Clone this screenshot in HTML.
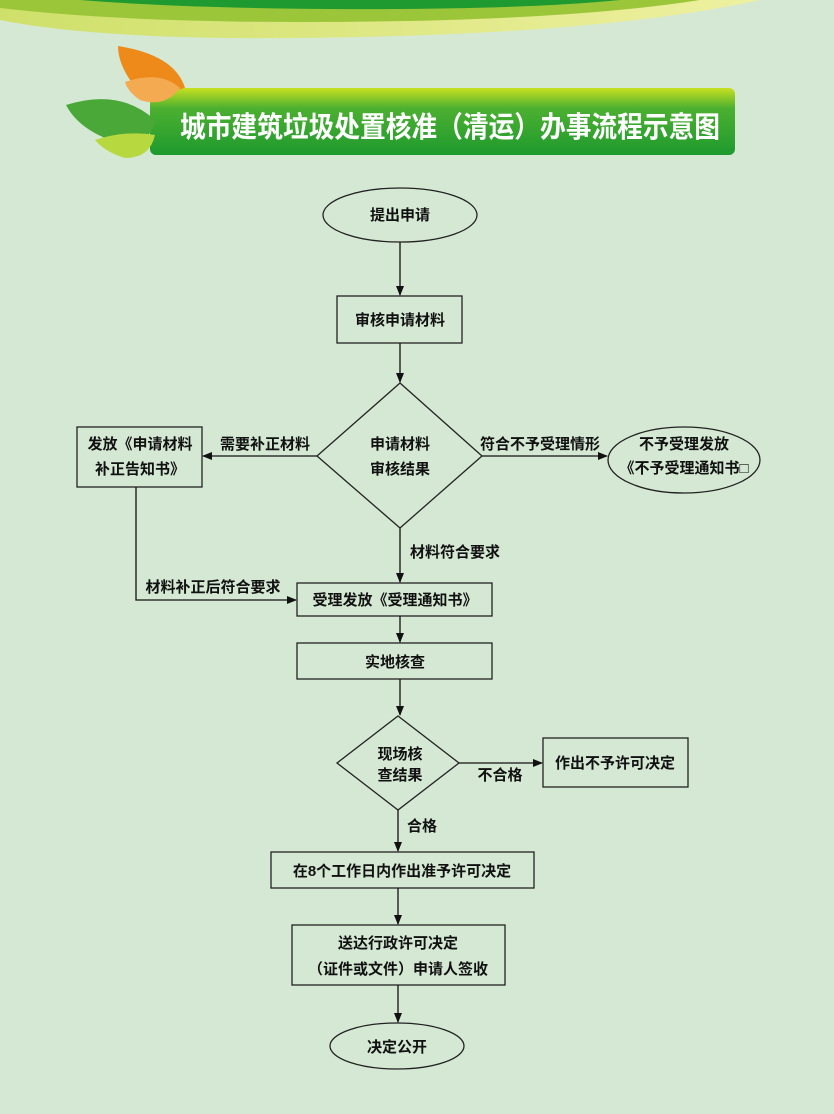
<!DOCTYPE html>
<html><head><meta charset="utf-8"><style>
html,body{margin:0;padding:0;background:#d4e8d3;}
svg{display:block}
text{font-family:"Liberation Sans","Noto Sans CJK SC",sans-serif;fill:#111;}
</style></head><body>
<svg width="834" height="1114" viewBox="0 0 834 1114" xmlns="http://www.w3.org/2000/svg">
<defs>
<linearGradient id="ban" x1="0" y1="0" x2="0" y2="1">
<stop offset="0" stop-color="#c8e020"/><stop offset="0.3" stop-color="#4cb030"/><stop offset="1" stop-color="#1e9a2e"/></linearGradient>
<linearGradient id="sw" x1="0" y1="0" x2="1" y2="0">
<stop offset="0" stop-color="#cfe06a"/><stop offset="1" stop-color="#eef0a0"/></linearGradient>
<marker id="ar" markerWidth="10" markerHeight="10" refX="9" refY="5" orient="auto" markerUnits="userSpaceOnUse">
<path d="M0,1 L10,5 L0,9 z" fill="#111"/></marker>
</defs>
<rect width="834" height="1114" fill="#d4e8d3"/>
<path d="M0,0 L760,0 Q600,35 300,38 Q100,40 0,20 z" fill="url(#sw)"/>
<path d="M0,0 L700,0 Q560,22 300,22 Q120,22 0,8 z" fill="#9cc63a"/>
<path d="M80,0 L620,0 Q520,10 330,9 Q180,8 80,0 z" fill="#1f9a30"/>
<rect x="150" y="88" width="585" height="67" rx="6" fill="url(#ban)"/>
<path d="M118,46 Q175,55 185,88 Q150,98 130,80 Q118,62 118,46z" fill="#ee8a1a"/>
<path d="M125,82 Q160,70 180,88 Q165,108 140,100 Q128,92 125,82z" fill="#f4aa50"/>
<path d="M66,105 Q120,88 155,120 Q150,150 110,140 Q78,128 66,105z" fill="#4aa838"/>
<path d="M95,140 Q125,130 155,135 Q150,158 125,158 Q105,152 95,140z" fill="#b8d840"/>
<text x="180" y="137" font-size="29" font-weight="bold" style="fill:#fff" textLength="540" lengthAdjust="spacingAndGlyphs">城市建筑垃圾处置核准（清运）办事流程示意图</text>
<g stroke="#222" stroke-width="1.3" fill="none">
<ellipse cx="400" cy="215" rx="77" ry="27"/>
<rect x="337" y="296" width="125" height="47"/>
<path d="M400,383 L482,456 L400,528 L317,456 z"/>
<rect x="77" y="427" width="125" height="60"/>
<ellipse cx="684" cy="460" rx="76" ry="33"/>
<rect x="297" y="583" width="195" height="33"/>
<rect x="297" y="643" width="195" height="36"/>
<path d="M398,716 L459,763 L398,810 L337,763 z"/>
<rect x="543" y="738" width="145" height="49"/>
<rect x="271" y="852" width="263" height="36"/>
<rect x="292" y="925" width="213" height="60"/>
<ellipse cx="397" cy="1046" rx="67" ry="23"/>
</g>
<g stroke="#111" stroke-width="1.3" fill="none" marker-end="url(#ar)">
<line x1="400" y1="242" x2="400" y2="295"/>
<line x1="400" y1="343" x2="400" y2="382"/>
<line x1="317" y1="456" x2="203" y2="456"/>
<line x1="482" y1="456" x2="607" y2="456"/>
<line x1="400" y1="528" x2="400" y2="582"/>
<polyline points="136,487 136,600 296,600"/>
<line x1="400" y1="616" x2="400" y2="642"/>
<line x1="400" y1="679" x2="400" y2="715"/>
<line x1="459" y1="763" x2="542" y2="763"/>
<line x1="398" y1="810" x2="398" y2="851"/>
<line x1="398" y1="888" x2="398" y2="924"/>
<line x1="398" y1="985" x2="398" y2="1022"/>
</g>
<g font-size="15" font-weight="bold" text-anchor="middle">
<text x="400" y="220">提出申请</text>
<text x="400" y="325">审核申请材料</text>
<text x="400" y="449">申请材料</text>
<text x="400" y="474">审核结果</text>
<text x="140" y="449">发放《申请材料</text>
<text x="140" y="474">补正告知书》</text>
<text x="265" y="449">需要补正材料</text>
<text x="540" y="449">符合不予受理情形</text>
<text x="684" y="449">不予受理发放</text>
<text x="684" y="473">《不予受理通知书□</text>
<text x="455" y="557">材料符合要求</text>
<text x="213" y="592">材料补正后符合要求</text>
<text x="395" y="605">受理发放《受理通知书》</text>
<text x="395" y="667">实地核查</text>
<text x="400" y="759">现场核</text>
<text x="400" y="780">查结果</text>
<text x="500" y="780">不合格</text>
<text x="615" y="768">作出不予许可决定</text>
<text x="422" y="831">合格</text>
<text x="402" y="876">在8个工作日内作出准予许可决定</text>
<text x="398" y="948">送达行政许可决定</text>
<text x="398" y="974">（证件或文件）申请人签收</text>
<text x="397" y="1052">决定公开</text>
</g>
</svg>
</body></html>
